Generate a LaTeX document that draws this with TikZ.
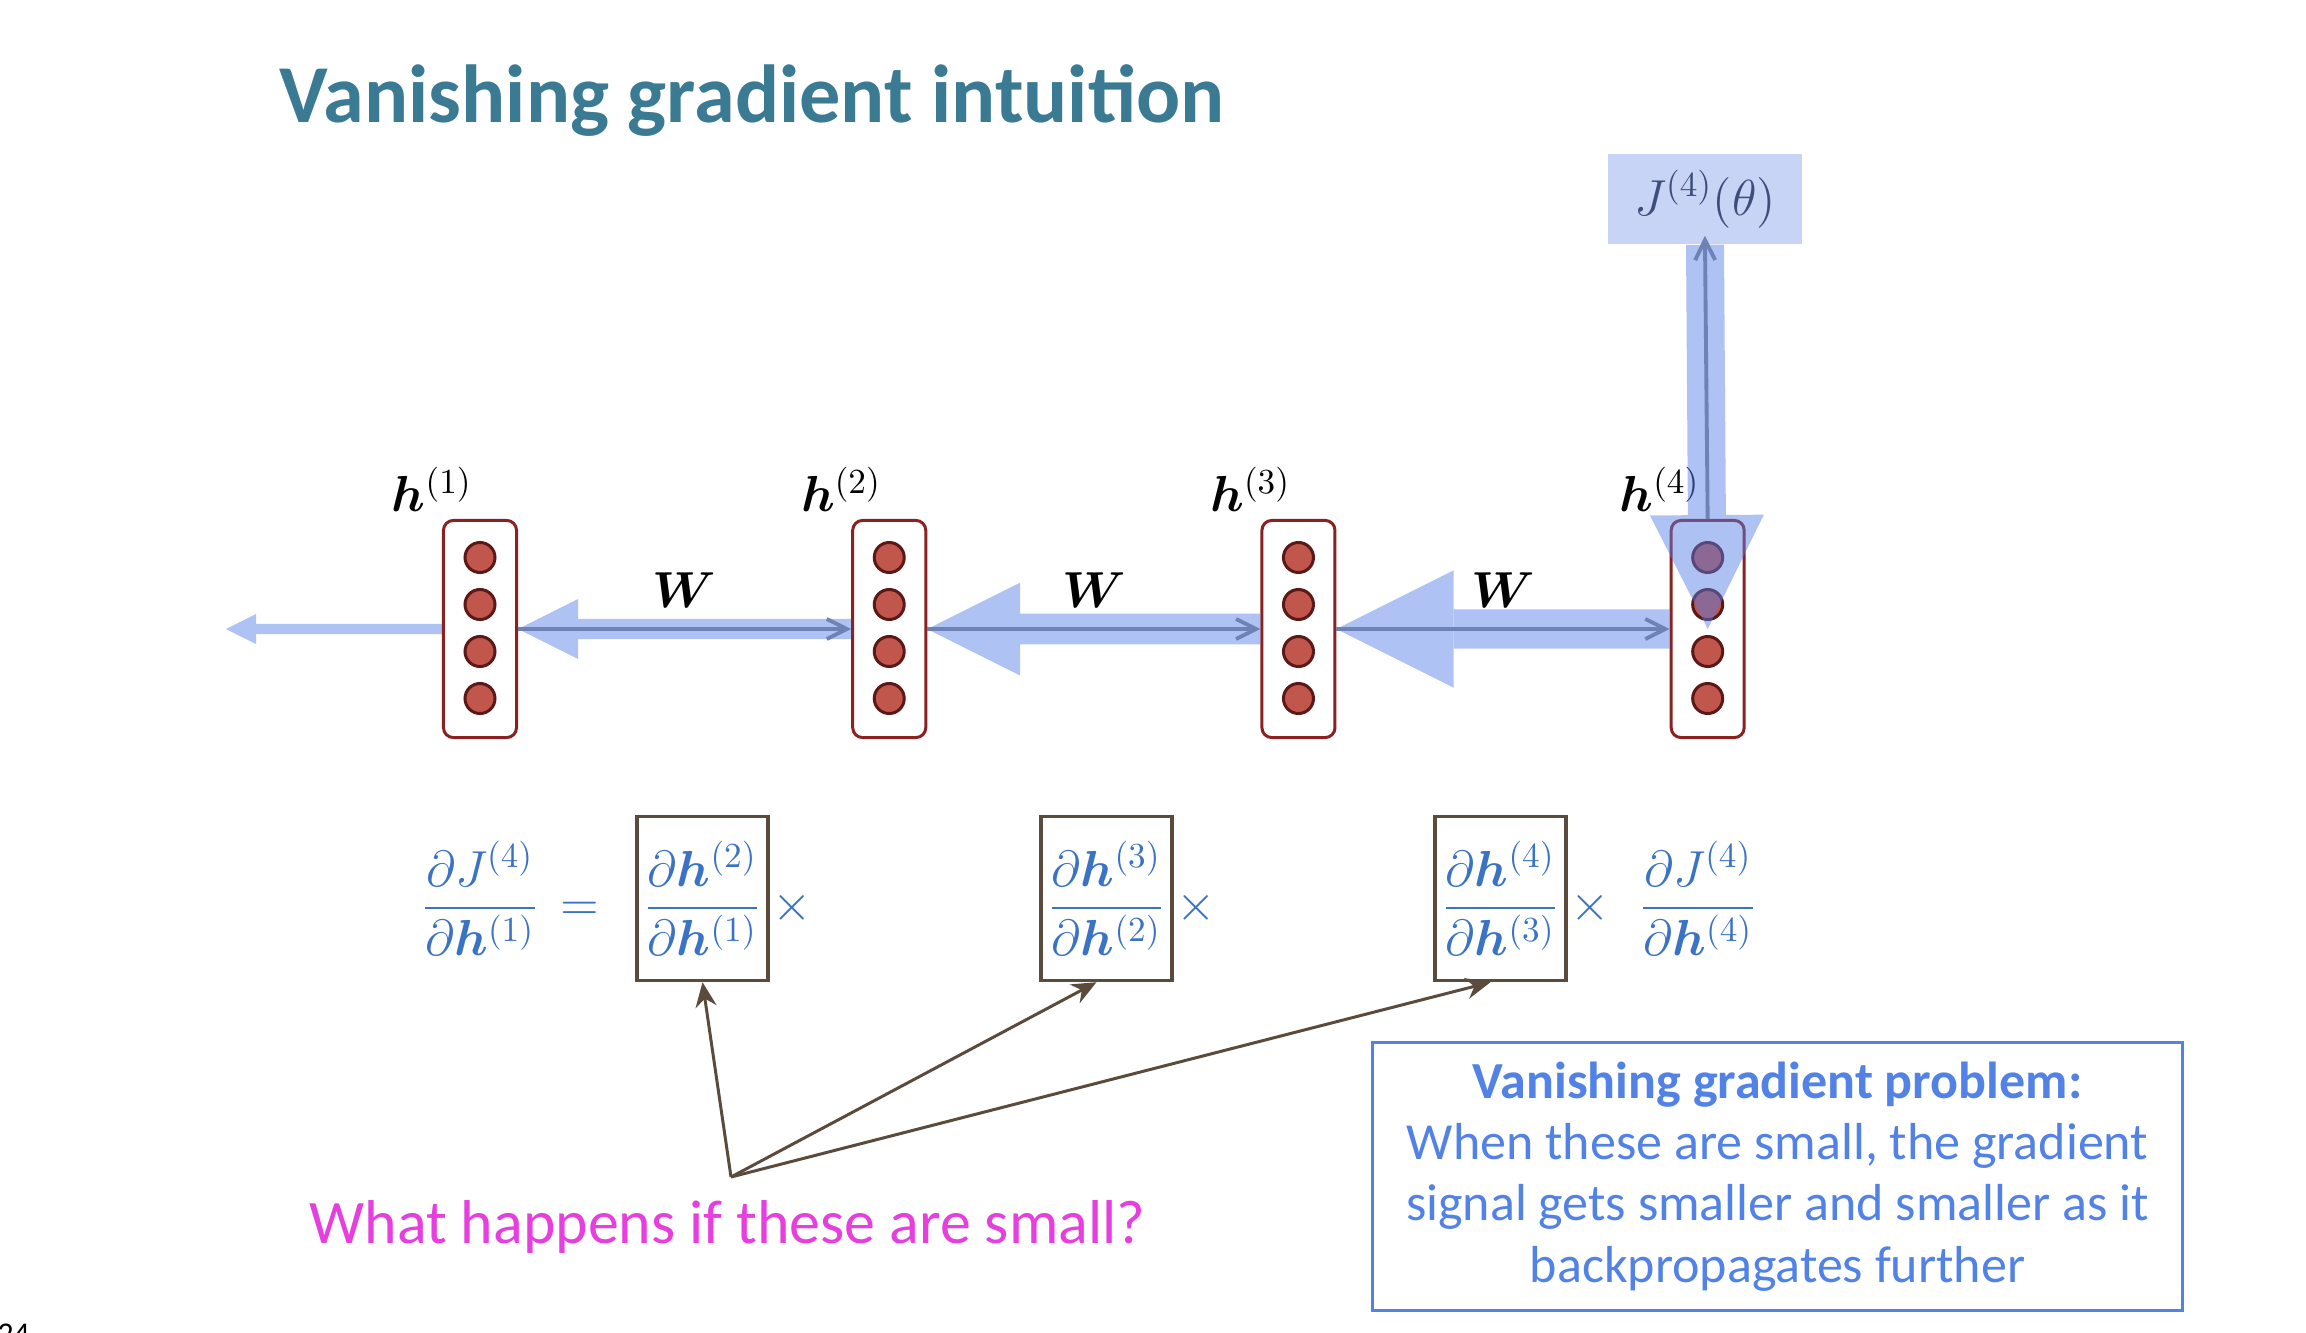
\documentclass[tikz,border=0pt]{standalone}
\usepackage[no-math]{fontspec}
\setmainfont{Carlito}
\usepackage{amsmath,bm}
\usepackage{xcolor}
\usepackage{tikz}
\usetikzlibrary{arrows.meta,positioning,calc}
\definecolor{titleteal}{HTML}{3A7A93}
\definecolor{flow}{HTML}{557FE5}
\definecolor{fwdline}{HTML}{6F82B6}
\definecolor{layred}{HTML}{8A2222}
\definecolor{unitred}{HTML}{C0564C}
\definecolor{unitedge}{HTML}{5C1717}
\definecolor{lossfill}{HTML}{C7D4F6}
\definecolor{lossink}{HTML}{3E4D7A}
\definecolor{eqblue}{HTML}{3B73C4}
\definecolor{boxbrown}{HTML}{5A4B3D}
\definecolor{askpink}{HTML}{E63FDE}
\definecolor{noteblue}{HTML}{5282E6}
\tikzset{
  layer/.style={draw=layred,line width=0.85pt,rounded corners=2.8pt,fill=white,
    minimum width=0.73cm,minimum height=2.17cm,inner sep=0pt},
  unit/.style={circle,draw=unitedge,fill=unitred,line width=0.85pt,minimum size=0.30cm,inner sep=0pt},
  band/.style={draw=flow,-{Triangle[length=0pt 3,width=0pt 3,line width=0pt]}},
  fwd/.style={draw=fwdline,line width=1.1pt,-{Straight Barb[length=5.7pt,width=5.7pt]}},
  hlab/.style={inner sep=0pt,font=\fontsize{14}{17}\selectfont},
  eq/.style={inner sep=0pt,text=eqblue,font=\fontsize{14}{17}\selectfont},
  gbox/.style={eq,draw=boxbrown,line width=0.95pt,minimum width=1.31cm,minimum height=1.64cm},
  ask/.style={draw=boxbrown,line width=0.85pt,-{Stealth[length=7pt,width=6pt]}},
  note/.style={draw=noteblue,line width=0.85pt,text=noteblue,align=center,
    minimum width=8.1cm,minimum height=2.68cm,font=\fontsize{14.8}{17.4}\selectfont}
}

\begin{document}
\begin{tikzpicture}[x=0.01cm,y=0.01cm]
 \useasboundingbox (0,0) rectangle (2306,1332);
 \node[anchor=base west,inner sep=0pt,text=titleteal,font=\fontsize{23.4}{28}\selectfont\bfseries] (title) at (279,1209) {Vanishing gradient intuition};
 \node[fill=lossfill,text=lossink,font=\fontsize{14}{17}\selectfont,minimum width=1.93cm,minimum height=0.9cm] (J) at (1705,1133) {$J^{(4)}(\theta)$};
 % hidden states
 \node[layer] (h1) at (480,703) {};
 \node[layer,right=3.33cm of h1] (h2) {};
 \node[layer,right=3.33cm of h2] (h3) {};
 \node[layer,right=3.33cm of h3] (h4) {};
 \coordinate (out) at (226,703);
 \foreach \i in {1,...,4}{
   \foreach \k/\dy in {a/71.5,b/24.5,c/-22.5,d/-69.5}
     \node[unit] (h\i\k) at ($(h\i)+(0,\dy)$) {};
   \node[hlab,anchor=base east] (l\i) at ($(h\i.north)+(-7,7)$) {$\bm{h}^{(\i)}$};
 }
 % gradient flowing back
 \begin{scope}[transparency group,opacity=0.48]
  \draw[band,line width=2.85pt] (h1.west) -- (out);
  \draw[band,line width=5.7pt] (h2.west) -- (h1.east);
  \draw[band,line width=8.8pt] (h3.west) -- (h2.east);
  \draw[band,line width=11.1pt] (h4.west) -- (h3.east);
  \draw[band,line width=10.8pt] (J.south) -- (h4.center);
 \end{scope}
 \draw[fwd] (h1.east) -- (h2.west); \draw[fwd] (h2.east) -- (h3.west); \draw[fwd] (h3.east) -- (h4.west);
 \draw[fwd,shorten >=-0.09cm] (h4.north) -- (J.south);
 \node[hlab,anchor=base] (w1) at ($(h1.east)!0.5!(h2.west)+(0,22)$) {$\bm{W}$};
 \node[hlab,anchor=base] (w2) at ($(h2.east)!0.5!(h3.west)+(0,22)$) {$\bm{W}$};
 \node[hlab,anchor=base] (w3) at ($(h3.east)!0.5!(h4.west)+(0,22)$) {$\bm{W}$};
 % chain rule
 \node[gbox] (g1) at (702.5,433.5) {$\displaystyle\frac{\partial\bm{h}^{(2)}}{\partial\bm{h}^{(1)}}$};
 \node[gbox] (g2) at (1106.5,433.5) {$\displaystyle\frac{\partial\bm{h}^{(3)}}{\partial\bm{h}^{(2)}}$};
 \node[gbox] (g3) at (1500.5,433.5) {$\displaystyle\frac{\partial\bm{h}^{(4)}}{\partial\bm{h}^{(3)}}$};
 \node[eq,anchor=base] (lhs) at (g1.base -| h1) {$\displaystyle\frac{\partial J^{(4)}}{\partial\bm{h}^{(1)}}$};
 \node[eq,base right=0.2cm of lhs] (is) {$=$};
 \node[eq,base right=0.02cm of g1] (x1) {$\times$};
 \node[eq,base right=0.02cm of g2] (x2) {$\times$};
 \node[eq,base right=0.02cm of g3] (x3) {$\times$};
 \node[eq,base right=0.28cm of x3] (rhs) {$\displaystyle\frac{\partial J^{(4)}}{\partial\bm{h}^{(4)}}$};
 % question
 \coordinate (q) at (731,155);
 \draw[ask] (q) -- (g1.south);
 \draw[ask] (q) -- ($(g2.south)+(-10,0)$);
 \draw[ask] (q) -- ($(g3.south)+(-10,0)$);
 \node[anchor=base,inner sep=0pt,text=askpink,font=\fontsize{17.6}{22}\selectfont] (askt) at (727.5,89) {What happens if these are small?};
 \node[note] (prob) at (1777.5,155.5) {\textbf{Vanishing gradient problem:}\\When these are small, the gradient\\signal gets smaller and smaller as it\\backpropagates further};
 \node[anchor=base west,inner sep=0pt,font=\fontsize{9}{11}\selectfont] (pg) at (-3,-12) {24};
\end{tikzpicture}
\end{document}
